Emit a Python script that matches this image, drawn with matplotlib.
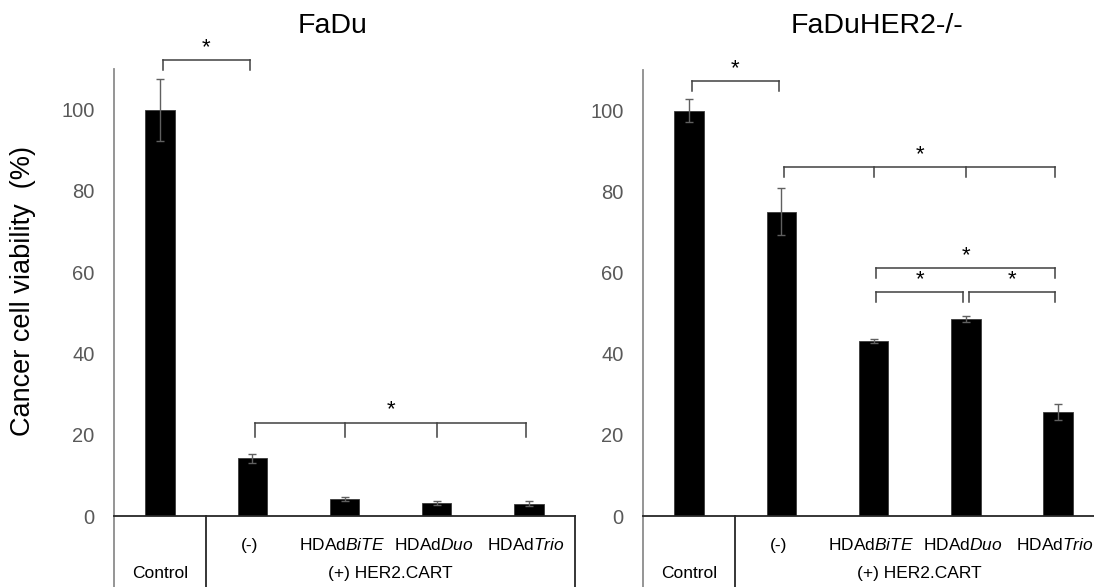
import matplotlib.pyplot as plt
from matplotlib.transforms import blended_transform_factory

plt.rcParams['font.family'] = ['Liberation Sans', 'DejaVu Sans']
plt.rcParams['mathtext.fontset'] = 'custom'
plt.rcParams['mathtext.rm'] = 'Liberation Sans'
plt.rcParams['mathtext.it'] = 'Liberation Sans:italic'

groups = ['Control', '(-)', 'HDAd$\\mathit{BiTE}$', 'HDAd$\\mathit{Duo}$', 'HDAd$\\mathit{Trio}$']
group_top = ['Control', '(+) HER2.CART']

fadu_mean = [100, 14.2, 4.1, 3.1, 3.0]
fadu_err = [7.6, 1.1, 0.5, 0.5, 0.65]
her2_mean = [100, 75, 43.2, 48.6, 25.7]
her2_err = [2.8, 5.8, 0.45, 0.7, 2.0]

# significance brackets: (category indices, bracket height)
fadu_sig = [([0, 1], 112.2), ([1, 2, 3, 4], 23.0)]
her2_sig = [([0, 1], 107.3), ([1, 2, 3, 4], 86.1), ([2, 4], 61.1), ([2, 3], 55.3), ([3, 4], 55.3)]

fig = plt.figure(figsize=(10.94, 5.87), dpi=100)
ax1 = fig.add_axes([0.1042, 0.1209, 0.4214, 0.7616])
ax2 = fig.add_axes([0.5878, 0.1209, 0.4214, 0.7599])

x = list(range(len(groups)))


def bracket(ax, idx, y, drop):
    xs = [i for i in idx]
    xs[0] += 0.03
    xs[-1] -= 0.03
    ax.plot([xs[0], xs[-1]], [y, y], color='#404040', lw=1.1, clip_on=False)
    for xi in xs:
        ax.plot([xi, xi], [y, y - drop], color='#404040', lw=1.1, clip_on=False)
    ax.text((xs[0] + xs[-1]) / 2, y + 0.5, '*', ha='center', va='bottom',
            fontsize=16, clip_on=False)


def panel(ax, mean, err, sig, title, title_x):
    ax.bar(x, mean, width=0.32, color='black', edgecolor='#3a3a3a', lw=0.6)
    ax.errorbar(x, mean, yerr=err, fmt='none', ecolor='#606060',
                elinewidth=1, capsize=3, capthick=1)
    ax.set_xlim(-0.5, 4.5)
    ax.set_ylim(0, 110)
    ax.set_yticks(range(0, 101, 20))
    ax.tick_params(axis='y', length=0, pad=14, labelsize=14.5, labelcolor='#595959')
    ax.set_xticks([])
    for s in ['top', 'right']:
        ax.spines[s].set_visible(False)
    ax.spines['left'].set_color('#8c8c8c')
    ax.spines['left'].set_linewidth(1.3)
    ax.spines['bottom'].set_color('#262626')
    ax.spines['bottom'].set_linewidth(1.3)

    tr = blended_transform_factory(ax.transData, ax.transAxes)
    for xv in [-0.5, 0.5, 4.5]:
        ax.plot([xv, xv], [0, -0.25], color='#262626' if xv != -0.5 else '#8c8c8c',
                lw=1.3, transform=tr, clip_on=False)
    for xi, lab in zip(x[1:], groups[1:]):
        ax.text(xi - 0.03, -0.065, lab, transform=tr, ha='center', va='center', fontsize=12.5)
    ax.text(0, -0.128, group_top[0], transform=tr, ha='center', va='center', fontsize=12.5)
    ax.text(2.5, -0.128, group_top[1], transform=tr, ha='center', va='center', fontsize=12.5)

    for idx, y in sig:
        drop = 3.5 if len(idx) > 2 and y < 30 else 2.4
        bracket(ax, idx, y, drop)

    fig.text(title_x, 0.955, title, ha='center', va='center', fontsize=20.5)


panel(ax1, fadu_mean, fadu_err, fadu_sig, 'FaDu', 0.304)
panel(ax2, her2_mean, her2_err, her2_sig, 'FaDuHER2-/-', 0.802)

fig.text(0.021, 0.505, 'Cancer cell viability  (%)', rotation=90,
         ha='center', va='center', fontsize=19.5)

fig.savefig('out.png', dpi=100)
